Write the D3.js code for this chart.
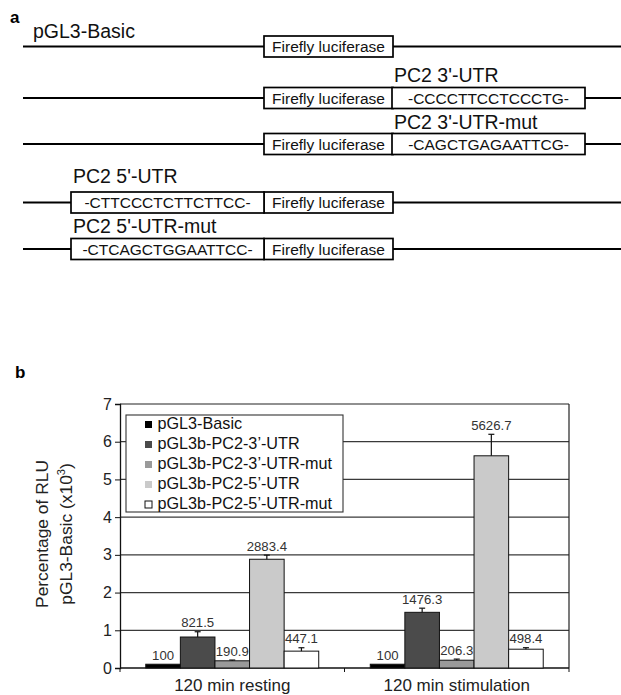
<!DOCTYPE html>
<html>
<head>
<meta charset="utf-8">
<script src="https://cdn.jsdelivr.net/npm/d3@7"></script>
<style>
  body { margin: 0; background: #fff; }
  svg { display: block; font-family: "Liberation Sans", Arial, sans-serif; }
</style>
</head>
<body>
<div id="fig"></div>
<script>
// ---- panel a: reporter constructs ----
var constructNames = ["pGL3-Basic", "PC2 3'-UTR", "PC2 3'-UTR-mut", "PC2 5'-UTR", "PC2 5'-UTR-mut"];
var constructSeqs = [null, "-CCCCTTCCTCCCTG-", "-CAGCTGAGAATTCG-", "-CTTCCCTCTTCTTCC-", "-CTCAGCTGGAATTCC-"];
var constructSides = [null, "3", "3", "5", "5"];
var geneName = "Firefly luciferase";

// ---- panel b: luciferase activity ----
var groups = ["120 min resting", "120 min stimulation"];
var series = ["pGL3-Basic", "pGL3b-PC2-3\u2019-UTR", "pGL3b-PC2-3\u2019-UTR-mut",
              "pGL3b-PC2-5\u2019-UTR", "pGL3b-PC2-5\u2019-UTR-mut"];
var restingValues = [100, 821.5, 190.9, 2883.4, 447.1];
var stimulationValues = [100, 1476.3, 206.3, 5626.7, 498.4];
var restingErrors = [0, 140, 20, 110, 90];
var stimulationErrors = [0, 110, 30, 570, 40];
var yTicks = [0, 1, 2, 3, 4, 5, 6, 7];
var seriesColors = ["#000000", "#4b4b4b", "#9a9a9a", "#cacaca", "#ffffff"];

function drawFigure() {
    var W = 621, H = 695;
    var svg = d3.select("#fig").append("svg").attr("width", W).attr("height", H);

    // ================= panel a =================
    var rowY = [46.5, 98, 144, 202.5, 249];
    var labelY = [37.5, 82, 129, 183, 233];
    var boxH = 21;
    var gene = [264, 393], utr3 = [392, 585], utr5 = [71, 264];

    svg.append("text").attr("x", 10).attr("y", 23)
        .attr("font-size", 17).attr("font-weight", "bold").text("a");

    var ga = svg.append("g");
    constructNames.forEach(function(name, i) {
        var ry = rowY[i];
        ga.append("line").attr("x1", 23).attr("x2", W).attr("y1", ry).attr("y2", ry)
            .attr("stroke", "#000").attr("stroke-width", 2);

        var boxes = [{x: gene, t: geneName}];
        if (constructSides[i] == "3") boxes.push({x: utr3, t: constructSeqs[i]});
        if (constructSides[i] == "5") boxes.push({x: utr5, t: constructSeqs[i]});
        boxes.forEach(function(b) {
            ga.append("rect").attr("x", b.x[0]).attr("y", ry - boxH / 2)
                .attr("width", b.x[1] - b.x[0]).attr("height", boxH)
                .attr("fill", "#fff").attr("stroke", "#000").attr("stroke-width", 1.7);
            ga.append("text").attr("x", (b.x[0] + b.x[1]) / 2).attr("y", ry + 5.5)
                .attr("text-anchor", "middle").attr("font-size", 15.5).attr("fill", "#111")
                .text(b.t);
        });

        var lx = 33;
        if (constructSides[i] == "3") lx = utr3[0] + 2;
        if (constructSides[i] == "5") lx = utr5[0] + 2;
        ga.append("text").attr("x", lx).attr("y", labelY[i])
            .attr("font-size", 19.5).attr("fill", "#111").text(name);
    });

    // ================= panel b =================
    svg.append("text").attr("x", 15).attr("y", 378)
        .attr("font-size", 17).attr("font-weight", "bold").text("b");

    var pLeft = 120, pRight = 569, pTop = 404, pBottom = 668;

    var y = d3.scaleLinear().domain([0, 7000]).range([pBottom, pTop]);
    var x0 = d3.scaleBand().domain(groups).range([pLeft, pRight]).paddingInner(0).paddingOuter(0);
    var x1 = d3.scaleBand().domain(series).range([0, x0.bandwidth()])
        .paddingInner(0).paddingOuter(0.745);
    var color = d3.scaleOrdinal().domain(series).range(seriesColors);

    var gb = svg.append("g");

    // gridlines
    gb.append("g").selectAll("line").data(yTicks.slice(1))
        .join("line")
        .attr("x1", pLeft).attr("x2", pRight)
        .attr("y1", function(d) { return y(d * 1000); })
        .attr("y2", function(d) { return y(d * 1000); })
        .attr("stroke", function(d) { return d == 7 ? "#222" : "#3a3a3a"; })
        .attr("stroke-width", 1.2);
    // right frame
    gb.append("line").attr("x1", pRight).attr("x2", pRight).attr("y1", pTop).attr("y2", pBottom)
        .attr("stroke", "#222").attr("stroke-width", 1.2);

    // y axis
    var yAxis = d3.axisLeft(y).tickValues(yTicks.map(function(d) { return d * 1000; }))
        .tickFormat(function(d) { return d / 1000; }).tickSize(5).tickPadding(3);
    var ya = gb.append("g").attr("transform", "translate(" + pLeft + ",0)").call(yAxis);
    ya.select(".domain").attr("stroke", "#111").attr("stroke-width", 1.3);
    ya.selectAll(".tick line").attr("stroke", "#111");
    ya.selectAll(".tick text").attr("font-size", 16).attr("fill", "#222")
        .attr("font-family", "Liberation Sans, Arial, sans-serif");

    // x axis
    var xa = gb.append("g").attr("transform", "translate(0," + pBottom + ")");
    xa.append("line").attr("x1", pLeft).attr("x2", pRight).attr("stroke", "#111").attr("stroke-width", 1.3);
    xa.selectAll("line.tk").data([pLeft, pLeft + x0.bandwidth(), pRight]).join("line")
        .attr("class", "tk").attr("x1", function(d) { return d; }).attr("x2", function(d) { return d; })
        .attr("y1", 0).attr("y2", 4).attr("stroke", "#111");
    xa.selectAll("text").data(groups).join("text")
        .attr("x", function(d) { return x0(d) + x0.bandwidth() / 2; })
        .attr("y", 23).attr("text-anchor", "middle")
        .attr("font-size", 17).attr("fill", "#222").text(function(d) { return d; });

    // y title
    var yt = gb.append("text").attr("transform", "translate(48,534) rotate(-90)")
        .attr("text-anchor", "middle").attr("font-size", 17.4).attr("fill", "#222");
    yt.append("tspan").attr("x", 0).attr("y", 0).text("Percentage of RLU");
    yt.append("tspan").attr("x", 0).attr("y", 24).text("pGL3-Basic (x10");
    yt.append("tspan").attr("dy", -7).attr("font-size", 11).text("3");
    yt.append("tspan").attr("dy", 7).text(")");

    // bars
    var rows = groups.map(function(g, gi) {
        var vals = gi == 0 ? restingValues : stimulationValues;
        var errs = gi == 0 ? restingErrors : stimulationErrors;
        return series.map(function(s, si) {
            return {group: g, series: s, value: vals[si], err: errs[si]};
        });
    });

    var gg = gb.append("g").selectAll("g").data(rows).join("g")
        .attr("transform", function(d) { return "translate(" + x0(d[0].group) + ",0)"; });

    gg.selectAll("rect").data(function(d) { return d; }).join("rect")
        .attr("x", function(d) { return x1(d.series); })
        .attr("y", function(d) { return y(d.value); })
        .attr("width", x1.bandwidth())
        .attr("height", function(d) { return y(0) - y(d.value); })
        .attr("fill", function(d) { return color(d.series); })
        .attr("stroke", "#111").attr("stroke-width", 1);

    var eb = gg.selectAll("g.err").data(function(d) { return d.filter(function(e) { return e.err > 0; }); })
        .join("g").attr("class", "err")
        .attr("transform", function(d) { return "translate(" + (x1(d.series) + x1.bandwidth() / 2) + ",0)"; });
    eb.append("line").attr("y1", function(d) { return y(d.value); })
        .attr("y2", function(d) { return y(d.value + d.err); })
        .attr("stroke", "#111").attr("stroke-width", 1.2);
    eb.append("line").attr("x1", -3).attr("x2", 3)
        .attr("y1", function(d) { return y(d.value + d.err); })
        .attr("y2", function(d) { return y(d.value + d.err); })
        .attr("stroke", "#111").attr("stroke-width", 1.2);

    gg.selectAll("text.val").data(function(d) { return d; }).join("text")
        .attr("class", "val")
        .attr("x", function(d) { return x1(d.series) + x1.bandwidth() / 2; })
        .attr("y", function(d) { return y(d.value + d.err) - 4.5; })
        .attr("text-anchor", "middle").attr("font-size", 13.2).attr("fill", "#333")
        .text(function(d) { return d.value; });

    // legend
    var lg = gb.append("g");
    lg.append("rect").attr("x", 126).attr("y", 415).attr("width", 217).attr("height", 97)
        .attr("fill", "#fff").attr("stroke", "#333").attr("stroke-width", 1.1);
    var li = lg.selectAll("g.item").data(series).join("g").attr("class", "item")
        .attr("transform", function(d, i) { return "translate(145," + (429.3 + i * 20) + ")"; });
    li.append("rect").attr("x", 0).attr("y", -8.3).attr("width", 7).attr("height", 7)
        .attr("fill", function(d) { return color(d); })
        .attr("stroke", function(d, i) { return i == 4 ? "#111" : "none"; });
    li.append("text").attr("x", 12.5).attr("y", 0).attr("font-size", 16.2).attr("fill", "#111")
        .text(function(d) { return d; });
}

drawFigure();
</script>
</body>
</html>
